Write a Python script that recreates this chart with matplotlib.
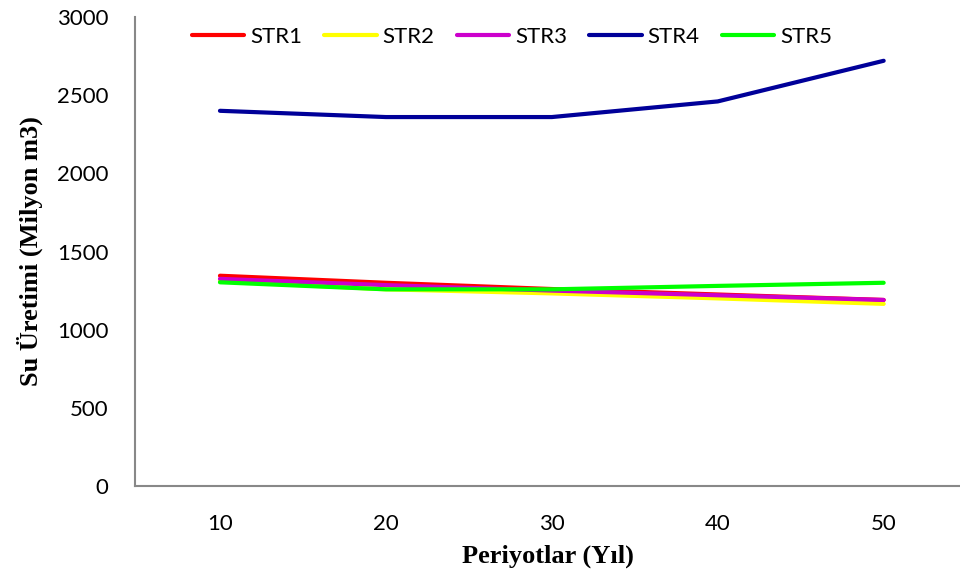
import matplotlib.pyplot as plt

periods = [10, 20, 30, 40, 50]
str1 = [1345, 1300, 1260, 1225, 1190]
str2 = [1310, 1258, 1232, 1200, 1165]
str3 = [1325, 1285, 1250, 1220, 1190]
str4 = [2400, 2360, 2360, 2460, 2720]
str5 = [1303, 1258, 1258, 1280, 1300]

names = ['STR1', 'STR2', 'STR3', 'STR4', 'STR5']
colors = ['#ff0000', '#ffff00', '#cc00cc', '#000099', '#00ff00']
series = [str1, str2, str3, str4, str5]

fig = plt.figure(figsize=(9.6, 5.83), dpi=100)
ax = fig.add_axes([135/960, 1-486/583, 825/960, 469/583])

for s, name, c in zip(series, names, colors):
    ax.plot(periods, s, color=c, lw=3, label=name, solid_capstyle='round')

ax.set_xlim(4.88, 54.6)
ax.set_ylim(0, 3000)
ax.set_xticks(periods)
ax.set_yticks(range(0, 3001, 500))
ax.tick_params(length=0, labelsize=16)
for lab in ax.get_xticklabels() + ax.get_yticklabels():
    lab.set_family('Lato')
ax.tick_params(axis='x', pad=20)
ax.tick_params(axis='y', pad=19)

for side in ['top', 'right']:
    ax.spines[side].set_visible(False)
for side in ['left', 'bottom']:
    ax.spines[side].set_color('#888888')
    ax.spines[side].set_linewidth(1.5)

ax.set_xlabel('Periyotlar (Yıl)', family='Liberation Serif', fontweight='bold', fontsize=19, labelpad=8)
ax.set_ylabel('Su Üretimi (Milyon m3)', family='Liberation Serif', fontweight='bold', fontsize=19, labelpad=10)

leg = ax.legend(ncol=5, loc='center', bbox_to_anchor=(0.457, 0.957), frameon=False,
                handlelength=2.35, handletextpad=0.27, columnspacing=1.0,
                borderpad=0, prop={'family': 'Lato', 'size': 16})

fig.savefig('out.png', dpi=100)
